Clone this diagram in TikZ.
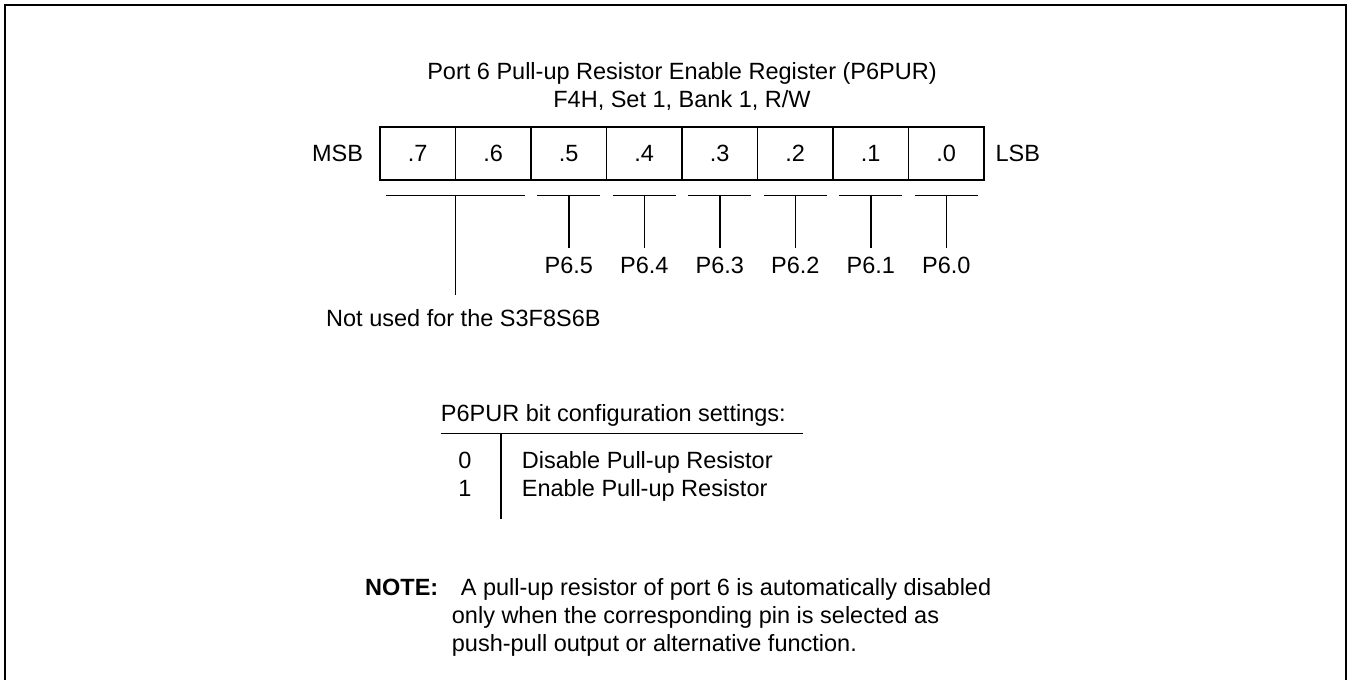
\documentclass[tikz,border=0pt]{standalone}
\usepackage{fontspec}
\setmainfont{Liberation Sans}
\begin{document}
\begin{tikzpicture}[x=1pt,y=-1pt,
  font=\fontsize{23.5}{28}\selectfont,
  every node/.style={inner sep=0pt},
  thin line/.style={line width=1.5pt},
  cellbox/.style={draw, line width=1.5pt, minimum width=75.5pt, minimum height=53.3pt},
  lbl/.style={anchor=base},
  lblw/.style={anchor=base west}]
\useasboundingbox (0,0) rectangle (1352,680);
% frame
\draw[line width=2.5pt] (5,680) -- (5,5) -- (1346,5) -- (1346,680);
% title
\node[lbl] (t1) at (682,79) {Port 6 Pull-up Resistor Enable Register (P6PUR)};
\node[lbl] (t2) at (682,107) {F4H, Set 1, Bank 1, R/W};
% register cells
\foreach \b [count=\i from 0] in {7,6,5,4,3,2,1,0} {
  \node[cellbox] (c\b) at (417.75+75.5*\i,153.4) {.\b};
}
\node[anchor=east] (msb) at ([xshift=-16pt]c7.west) {MSB};
\node[anchor=west] (lsb) at ([xshift=10.6pt]c0.east) {LSB};
% bracket for bits 7 and 6
\coordinate (b76l) at (386,195.3);
\coordinate (b76r) at (524.5,195.3);
\coordinate (b76) at (455.5,195.3);
\coordinate (b76e) at (455.5,295);
\draw[thin line] (b76l) -- (b76r);
\draw[thin line] (b76) -- (b76e);
\node[lblw] (nu) at (326,326) {Not used for the S3F8S6B};
% brackets for bits 5..0
\foreach \b in {5,4,3,2,1,0} {
  \coordinate (bl\b) at ([xshift=7pt]c\b.west |- b76);
  \coordinate (br\b) at ([xshift=-7pt]c\b.east |- b76);
  \coordinate (bm\b) at (c\b.center |- b76);
  \coordinate (be\b) at (c\b.center |- 0,248);
  \draw[thin line] (bl\b) -- (br\b);
  \draw[thin line] (bm\b) -- (be\b);
  \node[lbl] (p\b) at (c\b.center |- 0,273.3) {P6.\b};
}
% configuration table
\node[lblw] (cfg) at (440.7,421.7) {P6PUR bit configuration settings:};
\coordinate (hl) at (440.7,433.3);
\coordinate (hr) at (803.3,433.3);
\coordinate (vt) at (501,433.3);
\coordinate (vb) at (501,519);
\draw[thin line] (hl) -- (hr);
\draw[thin line] (vt) -- (vb);
\node[lbl] (v0) at (465,468.3) {0};
\node[lbl] (v1) at (465,496.7) {1};
\node[lblw] (d0) at (521.7,468.3) {Disable Pull-up Resistor};
\node[lblw] (d1) at (521.7,496.7) {Enable Pull-up Resistor};
% note
\node[lblw,font=\fontsize{23.5}{28}\selectfont\bfseries] (note) at (365,595) {NOTE:};
\node[lblw] (n1) at (460.7,595) {A pull-up resistor of port 6 is automatically disabled};
\node[lblw] (n2) at (451.7,623.3) {only when the corresponding pin is selected as};
\node[lblw] (n3) at (451.7,651) {push-pull output or alternative function.};
\end{tikzpicture}
\end{document}
